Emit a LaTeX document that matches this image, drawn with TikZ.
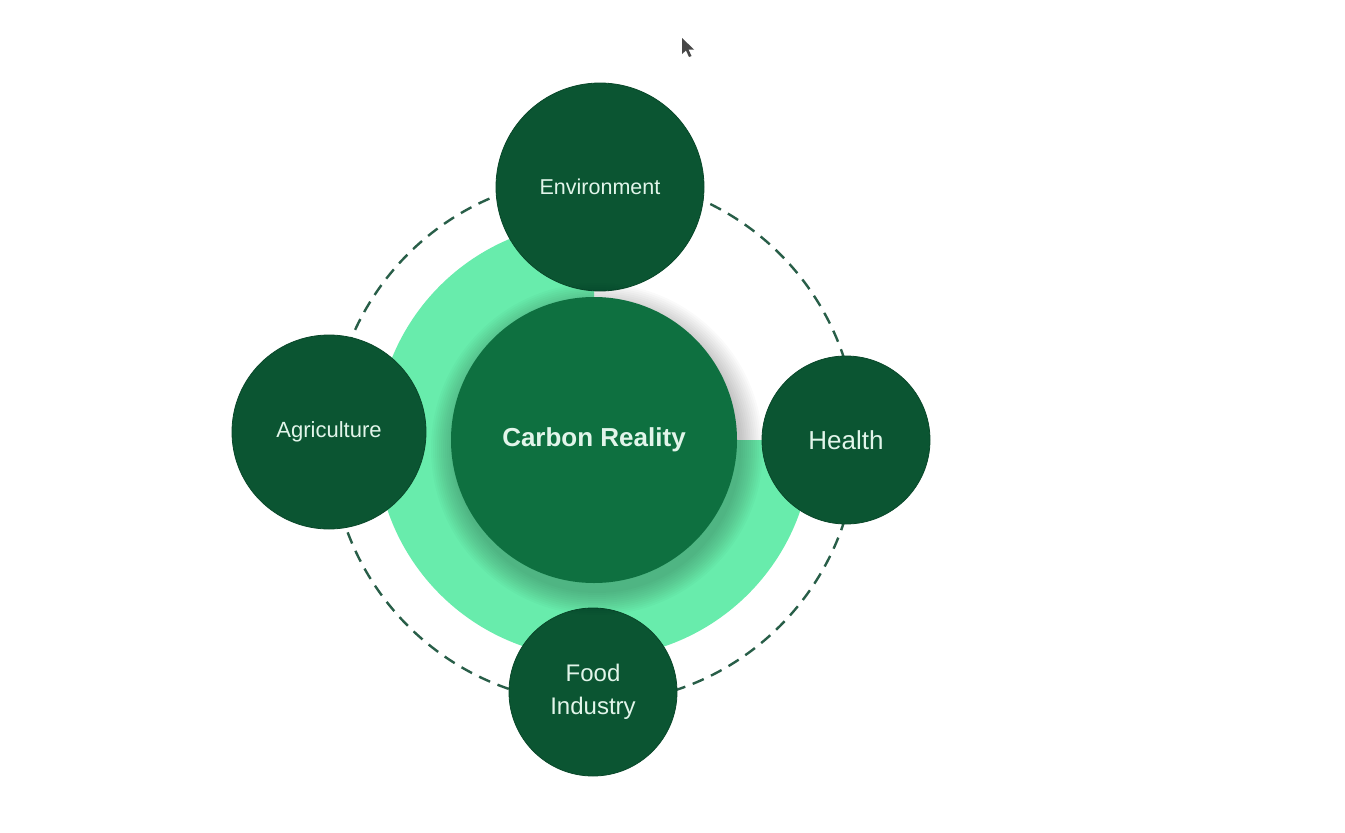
\documentclass[tikz,border=0pt]{standalone}
\usepackage{fontspec}
\setmainfont{Liberation Sans}
\definecolor{darkg}{HTML}{0B5532}
\definecolor{midg}{HTML}{0E7040}
\definecolor{lightg}{HTML}{68ECAC}
\definecolor{txt}{HTML}{E2F5EA}
\definecolor{dashc}{HTML}{285E48}
\tikzset{
  sat/.style={circle, fill=darkg, draw=darkg!85!black, line width=0.8pt, text=txt, align=center, inner sep=0pt},
  core/.style={circle, fill=midg, text=txt, align=center, inner sep=0pt},
  ring/.style={draw=dashc, line width=2.4pt, dash pattern=on 12pt off 8pt},
  shadowring/.style={fill=black, fill opacity=0.02, draw=none},
  cursorshape/.style={fill=black!72, draw=none}
}
\begin{document}
\begin{tikzpicture}[x=1pt,y=-1pt]
\useasboundingbox (0,0) rectangle (1345,833);
\fill[white] (0,0) rectangle (1345,833);
% dashed ring
\draw[ring] (594,440) circle[radius=263];
% light green three-quarter disc
\fill[lightg] (594,440) -- (594,222) arc[start angle=270, end angle=0, radius=218] -- cycle;
% satellites
\node[sat, minimum size=208pt, font=\fontsize{21.5}{25}\selectfont] (env) at (600,187) {Environment};
\node[sat, minimum size=194pt, font=\fontsize{22}{26}\selectfont] (agr) at (329,432) {Agriculture};
\node[sat, minimum size=168pt, font=\fontsize{26}{30}\selectfont] (hea) at (846,440) {Health};
\node[sat, minimum size=168pt, font=\fontsize{24}{33}\selectfont] (food) at (593,692) {Food\\Industry};
% soft shadow of the core
\foreach \r in {144,146,...,166}{
  \fill[shadowring] (597,449) circle[radius=\r];
}
% core
\node[core, minimum size=286pt, font=\bfseries\fontsize{26}{30}\selectfont] (core) at (594,440) {Carbon Reality};
% cursor
\fill[cursorshape] (682,38) -- (682,54) -- (686,50.5) -- (689,57) -- (691.5,56) -- (688.5,49.5) -- (694,49.5) -- cycle;
\end{tikzpicture}
\end{document}
